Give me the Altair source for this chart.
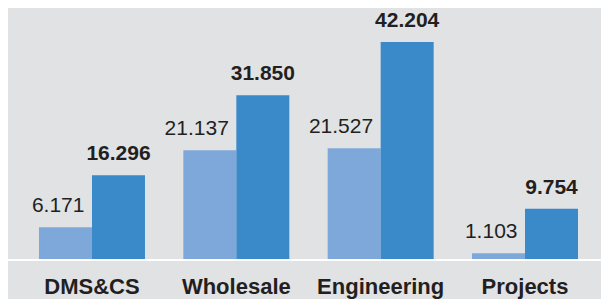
import altair as alt
import pandas as pd

categories = ["DMS&CS", "Wholesale", "Engineering", "Projects"]
series = ["Previous", "Current"]
prev_values = [6.171, 21.137, 21.527, 1.103]
curr_values = [16.296, 31.850, 42.204, 9.754]
colors = ["#7ea8da", "#3a89c9"]

BG = "#e1e2e4"
TXT = "#231f20"
FONT = "Liberation Sans"

rows = []
for c, p, q in zip(categories, prev_values, curr_values):
    rows.append({"category": c, "series": series[0], "value": p})
    rows.append({"category": c, "series": series[1], "value": q})
df = pd.DataFrame(rows)

x = alt.X(
    "category:N",
    sort=categories,
    scale=alt.Scale(paddingInner=0.2656, paddingOuter=0.187, align=0.574),
    axis=alt.Axis(
        title=None, domain=False, ticks=False, tickSize=0, labelAngle=0,
        labelFont=FONT, labelFontSize=22, labelFontWeight="bold",
        labelColor=TXT, labelPadding=34, labelBaseline="alphabetic",
    ),
)
xo = alt.XOffset("series:N", sort=series, scale=alt.Scale(paddingInner=0, paddingOuter=0))
y = alt.Y("value:Q", scale=alt.Scale(domain=[0, 48.8]), axis=None)

base = alt.Chart(df)

bars = base.mark_bar().encode(
    x=x, xOffset=xo, y=y,
    color=alt.Color("series:N", scale=alt.Scale(domain=series, range=colors), legend=None),
)

light_labels = base.transform_filter(alt.datum.series == series[0]).mark_text(
    align="right", baseline="alphabetic", dx=19, dy=-15,
    font=FONT, fontSize=21, color=TXT,
).encode(x=x, xOffset=xo, y=y, text=alt.Text("value:Q", format=".3f"))

dark_labels = base.transform_filter(alt.datum.series == series[1]).mark_text(
    align="center", baseline="alphabetic", dy=-15,
    font=FONT, fontSize=21, fontWeight="bold", color=TXT,
).encode(x=x, xOffset=xo, y=y, text=alt.Text("value:Q", format=".3f"))

rule = alt.Chart(pd.DataFrame({"v": [0]})).mark_rule(color="white", strokeWidth=2).encode(
    x=alt.value(0), x2=alt.value(593), y=alt.value(252)
)

chart = alt.layer(bars, rule, light_labels, dark_labels).properties(
    width=593, height=251, background=BG,
    autosize=alt.AutoSizeParams(type="none"),
    padding={"left": 0, "top": 0, "right": 0, "bottom": 40},
).configure_view(stroke=None)

chart.save("out.html", embed_options={"renderer": "svg", "actions": False})
